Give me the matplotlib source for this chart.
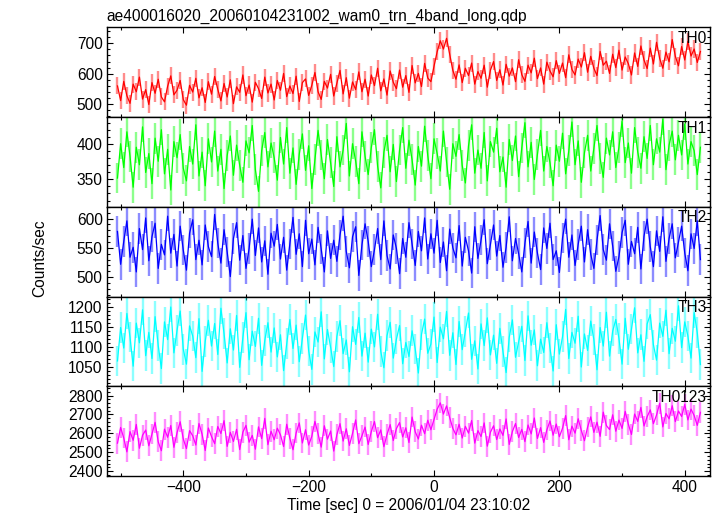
import numpy as np
import matplotlib
matplotlib.use("Agg")
import matplotlib.pyplot as plt
from matplotlib.ticker import MultipleLocator, AutoMinorLocator

plt.rcParams['font.family'] = ['Liberation Sans', 'DejaVu Sans']

# -----------------------------
# light curve data (5 s bins, first bin at t = -505 s)
# -----------------------------
t_start = -505
bin_sec = 5

th0 = [560, 512, 575, 528, 503, 566, 541, 589, 517, 548,
       499, 571, 536, 582, 524, 508, 559, 593, 531, 546,
       578, 515, 497, 562, 540, 585, 521, 554, 506, 574,
       533, 591, 549, 511, 568, 524, 580, 502, 557, 539,
       596, 528, 563, 507, 572, 551, 519, 589, 537, 566,
       514, 578, 546, 601, 525, 560, 535, 592, 509, 571,
       583, 529, 562, 604, 541, 516, 575, 553, 598, 527,
       569, 611, 534, 587, 520, 573, 548, 606, 541, 582,
       527, 596, 561, 618, 544, 583, 530, 609, 572, 551,
       612, 556, 594, 539, 627, 570, 601, 558, 634, 586,
       574, 625, 672, 708, 681, 716, 664, 611, 582, 629,
       571, 618, 594, 635, 566, 607, 585, 628, 556, 612,
       640, 578, 613, 563, 631, 592, 619, 574, 646, 597,
       575, 628, 603, 651, 584, 619, 566, 638, 609, 590,
       643, 601, 635, 587, 662, 614, 596, 648, 622, 669,
       605, 657, 618, 594, 673, 628, 641, 601, 664, 620,
       677, 612, 655, 633, 596, 668, 624, 691, 645, 617,
       684, 632, 703, 650, 618, 671, 639, 712, 657, 626,
       689, 645, 706, 658, 681, 637, 673]

th1 = [352, 401, 367, 418, 383, 339, 396, 371, 425, 360,
       387, 344, 409, 376, 421, 358, 393, 335, 404, 381,
       414, 366, 348, 397, 372, 428, 355, 389, 341, 408,
       375, 419, 362, 393, 337, 384, 412, 356, 399, 370,
       346, 405, 388, 427, 364, 333, 391, 417, 368, 402,
       381, 349, 410, 372, 424, 359, 395, 343, 386, 415,
       363, 398, 337, 379, 420, 385, 351, 407, 374, 340,
       411, 368, 392, 430, 355, 401, 376, 344, 418, 383,
       357, 396, 421, 369, 338, 389, 413, 361, 400, 347,
       392, 424, 366, 406, 378, 342, 397, 369, 426, 384,
       351, 408, 387, 362, 419, 375, 336, 401, 383, 414,
       370, 345, 398, 428, 359, 392, 366, 417, 348, 404,
       389, 423, 361, 382, 339, 407, 377, 412, 354, 395,
       431, 368, 403, 350, 386, 420, 362, 397, 374, 341,
       399, 376, 416, 358, 391, 432, 371, 405, 346, 388,
       413, 362, 394, 427, 380, 353, 409, 385, 418, 367,
       396, 433, 374, 402, 359, 424, 389, 366, 411, 380,
       427, 371, 408, 389, 436, 364, 399, 419, 378, 413,
       385, 429, 372, 404, 391, 357, 396]

th2 = [578, 522, 561, 596, 534, 551, 509, 583, 547, 601,
       528, 569, 592, 515, 556, 538, 604, 541, 573, 519,
       587, 546, 512, 575, 598, 530, 563, 521, 589, 552,
       535, 607, 558, 524, 581, 543, 501, 566, 593, 529,
       571, 515, 549, 599, 537, 584, 526, 562, 505, 575,
       553, 590, 531, 568, 512, 557, 602, 539, 574, 518,
       597, 540, 565, 521, 585, 548, 509, 579, 532, 563,
       527, 572, 604, 544, 516, 569, 586, 503, 555, 591,
       561, 518, 547, 583, 530, 596, 537, 514, 572, 549,
       506, 566, 534, 593, 557, 520, 578, 545, 601, 531,
       574, 541, 597, 525, 560, 511, 582, 550, 533, 588,
       519, 568, 545, 507, 586, 532, 563, 598, 523, 556,
       589, 536, 571, 517, 551, 603, 528, 566, 540, 509,
       558, 595, 524, 577, 541, 513, 584, 549, 592, 530,
       545, 508, 567, 599, 534, 572, 520, 556, 587, 526,
       581, 539, 515, 563, 605, 547, 529, 591, 553, 510,
       535, 576, 597, 522, 561, 540, 585, 514, 570, 599,
       552, 518, 579, 544, 603, 527, 566, 591, 533, 560,
       587, 541, 511, 574, 549, 596, 530]

th3 = [1065, 1148, 1097, 1183, 1124, 1052, 1159, 1110, 1192, 1078,
       1136, 1071, 1175, 1103, 1046, 1162, 1118, 1199, 1085, 1141,
       1189, 1094, 1057, 1152, 1127, 1073, 1170, 1039, 1114, 1166,
       1102, 1158, 1081, 1196, 1133, 1060, 1145, 1092, 1178, 1049,
       1123, 1185, 1068, 1139, 1101, 1171, 1054, 1116, 1160, 1087,
       1147, 1075, 1130, 1041, 1108, 1168, 1096, 1154, 1063, 1121,
       1179, 1090, 1044, 1137, 1112, 1187, 1070, 1143, 1099, 1051,
       1126, 1165, 1083, 1117, 1038, 1150, 1106, 1173, 1077, 1134,
       1062, 1144, 1100, 1181, 1089, 1048, 1128, 1161, 1072, 1119,
       1153, 1058, 1111, 1076, 1140, 1095, 1035, 1131, 1169, 1084,
       1107, 1174, 1061, 1149, 1120, 1188, 1079, 1135, 1056, 1163,
       1093, 1138, 1184, 1069, 1115, 1045, 1157, 1103, 1172, 1080,
       1129, 1059, 1146, 1088, 1036, 1124, 1167, 1074, 1113, 1151,
       1066, 1177, 1104, 1142, 1053, 1119, 1086, 1160, 1097, 1040,
       1155, 1082, 1125, 1193, 1071, 1136, 1109, 1176, 1050, 1132,
       1091, 1164, 1118, 1043, 1148, 1102, 1186, 1077, 1139, 1168,
       1121, 1057, 1171, 1094, 1144, 1197, 1085, 1130, 1064, 1157,
       1180, 1105, 1067, 1159, 1126, 1191, 1083, 1146, 1114, 1202,
       1098, 1162, 1127, 1072, 1185, 1135, 1056]

th0123 = [2548, 2631, 2575, 2502, 2609, 2563, 2647, 2521, 2590, 2617,
          2534, 2596, 2658, 2555, 2508, 2622, 2579, 2641, 2526, 2603,
          2661, 2570, 2519, 2614, 2587, 2538, 2652, 2595, 2509, 2628,
          2583, 2545, 2636, 2599, 2667, 2531, 2605, 2557, 2621, 2514,
          2606, 2642, 2553, 2589, 2516, 2634, 2572, 2679, 2540, 2611,
          2566, 2627, 2592, 2530, 2648, 2574, 2513, 2602, 2655, 2549,
          2619, 2538, 2584, 2663, 2597, 2527, 2640, 2569, 2612, 2506,
          2593, 2651, 2559, 2624, 2536, 2600, 2671, 2545, 2587, 2633,
          2541, 2610, 2662, 2577, 2618, 2529, 2594, 2646, 2562, 2625,
          2657, 2581, 2629, 2551, 2686, 2608, 2570, 2643, 2598, 2669,
          2619, 2674, 2728, 2761, 2702, 2745, 2683, 2626, 2592, 2648,
          2575, 2637, 2601, 2668, 2548, 2614, 2583, 2655, 2532, 2606,
          2640, 2567, 2623, 2589, 2676, 2541, 2609, 2652, 2578, 2621,
          2556, 2644, 2597, 2681, 2573, 2630, 2552, 2618, 2665, 2590,
          2649, 2582, 2627, 2694, 2566, 2638, 2601, 2677, 2615, 2561,
          2633, 2687, 2605, 2659, 2584, 2712, 2641, 2620, 2698, 2611,
          2670, 2626, 2716, 2648, 2594, 2702, 2663, 2737, 2639, 2688,
          2724, 2651, 2697, 2759, 2634, 2705, 2677, 2746, 2662, 2718,
          2689, 2753, 2671, 2728, 2694, 2642, 2711]

# typical 1-sigma error per bin
errors = [28, 22, 26, 38, 55]

band_names = ["TH0", "TH1", "TH2", "TH3", "TH0123"]
series = [th0, th1, th2, th3, th0123]
colors = ["#ff0000", "#00ff00", "#0000ff", "#00ffff", "#ff00ff"]
ylims = [(458, 752), (311, 439), (467, 620), (1002, 1225), (2374, 2849)]
ymajor = [100, 50, 50, 50, 100]

title = "ae400016020_20060104231002_wam0_trn_4band_long.qdp"
xlabel = "Time [sec] 0 = 2006/01/04 23:10:02"
ylabel = "Counts/sec"

# -----------------------------
# figure
# -----------------------------
fig = plt.figure(figsize=(7.17, 5.16), dpi=100)
left, width = 0.149, 0.841
bottom, panel_h = 0.0775, 0.1739
fs = 11.2

for i, (vals, col) in enumerate(zip(series, colors)):
    ax = fig.add_axes([left, bottom + (4 - i) * panel_h, width, panel_h])
    vals = np.array(vals, dtype=float)
    t = t_start + bin_sec * np.arange(len(vals))
    ax.errorbar(t, vals, yerr=errors[i], fmt="none", ecolor=col, alpha=0.45, elinewidth=1.7)
    ax.plot(t, vals, color=col, lw=0.9)

    ax.set_xlim(-522, 440)
    ax.set_ylim(*ylims[i])
    ax.xaxis.set_major_locator(MultipleLocator(200))
    ax.xaxis.set_minor_locator(MultipleLocator(100))
    ax.yaxis.set_major_locator(MultipleLocator(ymajor[i]))
    ax.yaxis.set_minor_locator(AutoMinorLocator(5))
    ax.tick_params(which="both", direction="in", top=True, right=True, labelsize=fs, pad=3)
    ax.tick_params(which="major", length=4.5, width=0.8)
    ax.tick_params(which="minor", length=2.5, width=0.8)
    for s in ax.spines.values():
        s.set_linewidth(1.0)
    if i < 4:
        ax.tick_params(labelbottom=False)
    else:
        ax.set_xlabel(xlabel, fontsize=fs, labelpad=2)
    if i == 0:
        ax.set_title(title, fontsize=fs, loc="left", pad=5)
    ax.text(0.995, 0.96, band_names[i], transform=ax.transAxes, ha="right", va="top", fontsize=fs)

fig.text(0.056, 0.5, ylabel, rotation=90, ha="center", va="center", fontsize=fs)

fig.savefig("out.png", dpi=100)
